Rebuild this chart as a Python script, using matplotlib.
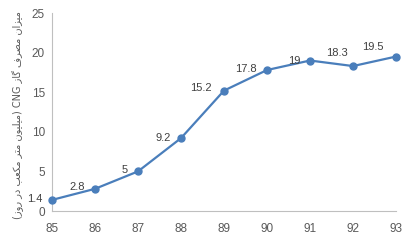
import numpy as np
import matplotlib
matplotlib.use("Agg")
import matplotlib.pyplot as plt

plt.rcParams["font.family"] = ["Liberation Sans", "DejaVu Sans"]

years = ["85", "86", "87", "88", "89", "90", "91", "92", "93"]
values = [1.4, 2.8, 5, 9.2, 15.2, 17.8, 19, 18.3, 19.5]
labels = ["1.4", "2.8", "5", "9.2", "15.2", "17.8", "19", "18.3", "19.5"]
yticks = [0, 5, 10, 15, 20, 25]

# label offsets in pixels (dx of right edge, dy)
offs = [(-10, 1), (-10, 2), (-10, 1), (-10, 0), (-12, 3), (-10, 1), (-10, 0), (-5, 13), (-12, 10)]

# persian y label, pre-shaped in visual order (matplotlib has no bidi/shaping)
def w(*cps):
    return "".join(chr(c) for c in cps)

ylab = " ".join([
    "(" + w(0xFEAF, 0xFEED, 0xFEAD),          # roz
    w(0xFEAD, 0xFEA9),                        # dar
    w(0xFE90, 0xFECC, 0xFB91, 0xFEE3),        # moka'ab
    w(0xFEAE, 0xFE98, 0xFEE3),                # metr
    w(0xFEE5, 0xFEEE, 0xFBFF, 0xFEE0, 0xFBFF, 0xFEE3) + ")",  # milion
    "CNG",
    w(0xFEAF, 0xFE8E, 0xFB94),                # gaz
    w(0xFED1, 0xFEAE, 0xFEBC, 0xFEE3),        # masraf
    w(0xFEE5, 0xFE8D, 0xFEB0, 0xFBFF, 0xFEE3),  # mizan
])

fig = plt.figure(figsize=(4.11, 2.46), dpi=100)
ax = fig.add_axes([52/411, 1-211/246, 344/411, 198/246])

x = np.arange(len(years))
ax.plot(x, values, color="#4a7ebb", lw=1.6, marker="o", ms=5, zorder=3, clip_on=False)

for xi, v, t, (dx, dy) in zip(x, values, labels, offs):
    ax.annotate(t, (xi, v), xytext=(dx*0.72, dy*0.72), textcoords="offset points",
                ha="right", va="center", fontsize=8, color="#404040", annotation_clip=False)

ax.set_xlim(0, len(years)-1)
ax.set_ylim(0, 25)
ax.set_xticks(x)
ax.set_xticklabels(years)
ax.set_yticks(yticks)
ax.tick_params(length=0, labelsize=8.5, labelcolor="#595959", pad=5)
ax.tick_params(axis="x", pad=9)
for s in ["top", "right"]:
    ax.spines[s].set_visible(False)
for s in ["left", "bottom"]:
    ax.spines[s].set_color("#bfbfbf")
    ax.spines[s].set_linewidth(0.8)

fig.text(18/411, 1-115/246, ylab, rotation=90, ha="center", va="center",
         fontsize=7, color="#595959", family="DejaVu Sans")

fig.savefig("out.png", dpi=100)
